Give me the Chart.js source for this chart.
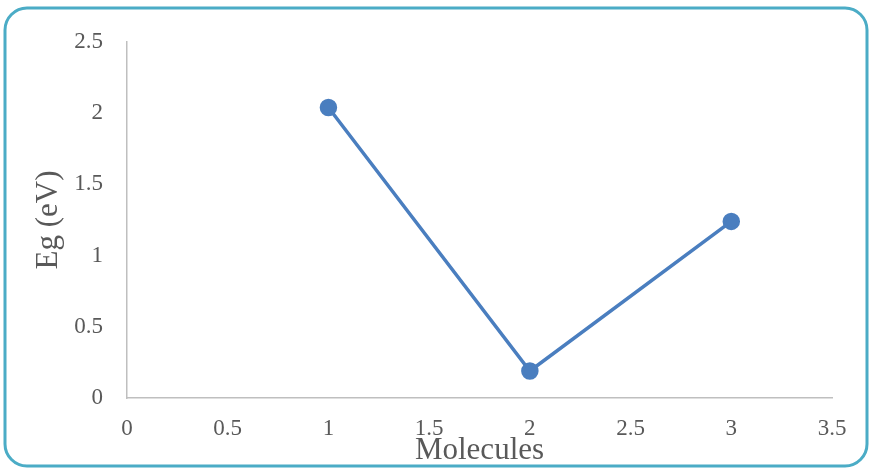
<!DOCTYPE html>
<html>
<head>
<meta charset="utf-8">
<script src="https://cdn.jsdelivr.net/npm/chart.js@4"></script>
<style>
  html, body { margin: 0; padding: 0; background: #fff; }
  #chart { display: block; }
</style>
</head>
<body>
<canvas id="chart" width="870" height="469"></canvas>
<script>
const molecules = [1, 2, 3];
const bandGap = [2.04, 0.19, 1.24];
const xTicks = [0, 0.5, 1, 1.5, 2, 2.5, 3, 3.5];
const yTicks = [0, 0.5, 1, 1.5, 2, 2.5];

const lineColor = '#4a7ebf';
const serif = '"Liberation Serif", "Times New Roman", serif';

// rounded frame around the whole chart
const frame = {
    id: 'frame',
    afterDraw(chart) {
        const c = chart.ctx;
        const x = 5, y = 8, w = 862, h = 458, r = 22;
        c.save();
        c.strokeStyle = '#4bacc6';
        c.lineWidth = 3;
        c.beginPath();
        c.moveTo(x + r, y);
        c.lineTo(x + w - r, y);
        c.arcTo(x + w, y, x + w, y + r, r);
        c.lineTo(x + w, y + h - r);
        c.arcTo(x + w, y + h, x + w - r, y + h, r);
        c.lineTo(x + r, y + h);
        c.arcTo(x, y + h, x, y + h - r, r);
        c.lineTo(x, y + r);
        c.arcTo(x, y, x + r, y, r);
        c.closePath();
        c.stroke();
        c.restore();
    }
};

const ctx = document.querySelector('#chart').getContext('2d');
const chart = new Chart(ctx, {
    type: 'scatter',
    data: {
        datasets: [{
            label: 'Eg',
            data: molecules.map((m, i) => ({x: m, y: bandGap[i]})),
            showLine: true,
            borderColor: lineColor,
            backgroundColor: lineColor,
            borderWidth: 3.5,
            pointRadius: 7,
            pointHoverRadius: 7
        }]
    },
    options: {
        responsive: false,
        animation: false,
        layout: {
            padding: {left: 0, top: 42, right: 38, bottom: 0}
        },
        plugins: {
            legend: {display: false},
            tooltip: {enabled: false}
        },
        scales: {
            x: {
                type: 'linear',
                min: 0,
                max: 3.5,
                afterBuildTicks: s => { s.ticks = xTicks.map(v => ({value: v})); },
                afterFit: s => { s.height = 71; },
                grid: {display: false, drawTicks: false},
                border: {display: true, color: '#bfbfbf', width: 1.5},
                ticks: {
                    padding: 17,
                    color: '#595959',
                    font: {family: serif, size: 23},
                    callback: v => String(v)
                },
                title: {
                    display: true,
                    text: 'Molecules',
                    color: '#595959',
                    padding: {top: 0, bottom: 0},
                    font: {family: serif, size: 31}
                }
            },
            y: {
                type: 'linear',
                min: 0,
                max: 2.5,
                afterBuildTicks: s => { s.ticks = yTicks.map(v => ({value: v})); },
                afterFit: s => { s.width = 127; },
                grid: {display: false, drawTicks: false},
                border: {display: true, color: '#bfbfbf', width: 1.5},
                ticks: {
                    padding: 24,
                    color: '#595959',
                    font: {family: serif, size: 23},
                    callback: v => String(v)
                },
                title: {
                    display: true,
                    text: 'Eg (eV)',
                    color: '#595959',
                    padding: {top: 30, bottom: 0},
                    font: {family: serif, size: 31}
                }
            }
        }
    },
    plugins: [frame]
});
</script>
</body>
</html>
